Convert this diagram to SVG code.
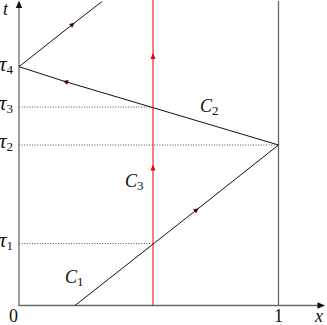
<svg xmlns="http://www.w3.org/2000/svg" width="327" height="325" viewBox="0 0 327 325">
<defs>
<style>
.ax{stroke:#6a6a6a;stroke-width:1.3;fill:none}
.ln{stroke:#111;stroke-width:1;fill:none}
.red{stroke:#e60000;stroke-width:1;fill:none}
.dot{stroke:#222;stroke-width:0.8;stroke-dasharray:1 1.6;fill:none}
</style>
<marker id="ah" markerWidth="8" markerHeight="8" refX="4" refY="4" orient="auto" markerUnits="userSpaceOnUse">
<path d="M1,1.5 L6,4 L1,6.5 Z" fill="#3a0000"/>
</marker>
<marker id="ahr" markerWidth="8" markerHeight="8" refX="4" refY="4" orient="auto" markerUnits="userSpaceOnUse">
<path d="M0.5,1.5 L6.5,4 L0.5,6.5 Z" fill="#e60000"/>
</marker>
</defs>
<g id="dotted">
<line class="dot" x1="19" y1="107" x2="153" y2="107"/>
<line class="dot" x1="19" y1="145" x2="278.5" y2="145"/>
<line class="dot" x1="19" y1="243.5" x2="153" y2="243.5"/>
</g>
<g id="axes">
<line class="ax" x1="19" y1="306" x2="19" y2="6"/>
<path d="M19,0.5 L22.2,8 L15.8,8 Z" fill="#111"/>
<line class="ax" x1="18.5" y1="305.5" x2="319" y2="305.5"/>
<path d="M325,305.5 L317.5,302.3 L317.5,308.7 Z" fill="#111"/>
<line class="ax" x1="278.5" y1="1" x2="278.5" y2="305.5"/>
</g>
<g id="connectors">
<path class="ln" d="M75,305.5 L197,209.5 L278.5,145" marker-mid="url(#ah)"/>
<path class="ln" d="M278.5,145 L65,81.5 L19,66.7" marker-mid="url(#ah)"/>
<path class="ln" d="M19,66.7 L73,24 L102,1.5" marker-mid="url(#ah)"/>
<path class="red" d="M153,305.5 L153,167 L153,55.5 L153,0" marker-mid="url(#ahr)"/>
</g>
<g id="labels" font-family="Liberation Serif, serif" fill="#111" font-size="18">
<g font-style="italic">
<text x="3" y="15" font-size="18">t</text>
<text x="-1" y="71" font-size="21">τ<tspan font-style="normal" font-size="13" dy="3">4</tspan></text>
<text x="-1" y="110" font-size="21">τ<tspan font-style="normal" font-size="13" dy="3">3</tspan></text>
<text x="-1" y="148" font-size="21">τ<tspan font-style="normal" font-size="13" dy="3">2</tspan></text>
<text x="-1" y="247" font-size="21">τ<tspan font-style="normal" font-size="13" dy="3">1</tspan></text>
<text x="200" y="112">C<tspan font-style="normal" font-size="13" dy="3">2</tspan></text>
<text x="125" y="187">C<tspan font-style="normal" font-size="13" dy="3">3</tspan></text>
<text x="65" y="283">C<tspan font-style="normal" font-size="13" dy="3">1</tspan></text>
<text x="315" y="322">x</text>
</g>
<text x="9" y="322">0</text>
<text x="274" y="322">1</text>
</g>
</svg>
